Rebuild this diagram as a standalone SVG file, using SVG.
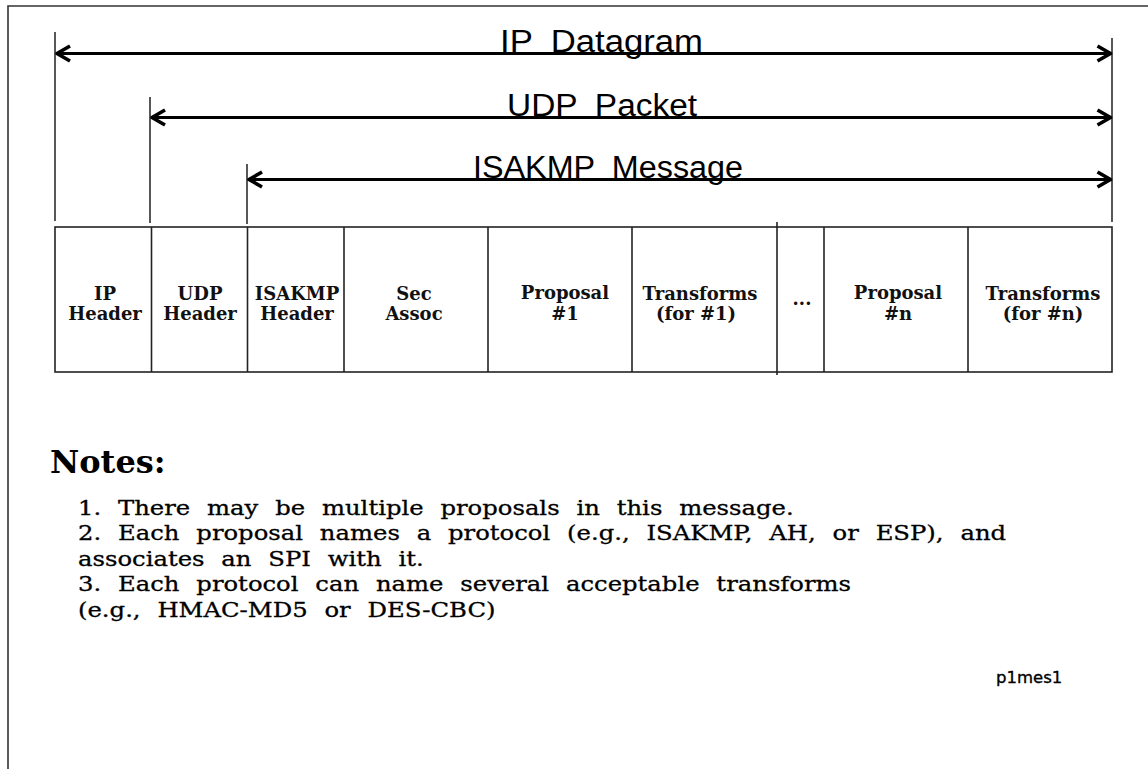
<svg xmlns="http://www.w3.org/2000/svg" width="1148" height="769" viewBox="0 0 1148 769">
  <style>
    .frame { fill: none; stroke: #333; stroke-width: 1.6; }
    .tick { stroke: #111; stroke-width: 1.4; }
    .span { stroke: #000; stroke-width: 3; fill: none; }
    .cell { fill: #fff; stroke: #222; stroke-width: 1.6; }
    .div { stroke: #222; stroke-width: 1.6; }
    .title { font-family: "Liberation Sans", Arial, sans-serif; font-size: 31px; fill: #000; word-spacing: 8px; }
    .lbl { font-family: "DejaVu Serif", "Liberation Serif", serif; font-weight: bold; font-size: 18px; fill: #111; text-anchor: middle; }
    .head { font-family: "DejaVu Serif", "Liberation Serif", serif; font-weight: bold; font-size: 32px; fill: #000; }
    .note { font-family: "DejaVu Serif", "Liberation Serif", serif; font-size: 20px; fill: #000; stroke: #000; stroke-width: 0.3; word-spacing: 7.5px; }
    .tag { font-family: "DejaVu Sans", "Liberation Sans", sans-serif; font-size: 16.5px; fill: #000; stroke: #000; stroke-width: 0.35; }
  </style>
  <defs>
    <marker id="chev" viewBox="-16 -10 20 20" refX="0" refY="0" markerWidth="20" markerHeight="20" markerUnits="userSpaceOnUse" orient="auto-start-reverse">
      <path d="M-13,-7.5 L0,0 L-13,7.5" fill="none" stroke="#000" stroke-width="3.6" stroke-linejoin="round" stroke-linecap="butt"/>
    </marker>
  </defs>

  <rect width="1148" height="769" fill="#fff"/>

  <!-- page frame (open to the right and bottom) -->
  <path class="frame" d="M8,769 L8,6 L1148,6"/>

  <!-- extent markers and spanning arrows -->
  <g id="connectors">
    <line class="tick" x1="55" y1="32" x2="55" y2="221"/>
    <line class="tick" x1="150" y1="97" x2="150" y2="223"/>
    <line class="tick" x1="247" y1="164" x2="247" y2="224"/>
    <line class="tick" x1="1112" y1="38" x2="1112" y2="222"/>

    <line class="span" x1="57" y1="53.5" x2="1110.5" y2="53.5" marker-start="url(#chev)" marker-end="url(#chev)"/>
    <line class="span" x1="152" y1="117.5" x2="1110.5" y2="117.5" marker-start="url(#chev)" marker-end="url(#chev)"/>
    <line class="span" x1="249" y1="179.5" x2="1110.5" y2="179.5" marker-start="url(#chev)" marker-end="url(#chev)"/>
  </g>

  <g id="span-labels">
    <text class="title" x="500" y="52" textLength="203" lengthAdjust="spacingAndGlyphs">IP Datagram</text>
    <text class="title" x="507" y="116" textLength="190" lengthAdjust="spacingAndGlyphs">UDP Packet</text>
    <text class="title" x="473" y="178" textLength="270" lengthAdjust="spacingAndGlyphs">ISAKMP Message</text>
  </g>

  <!-- packet layout -->
  <g id="packet">
    <rect class="cell" x="55" y="227" width="1057" height="145"/>
    <line class="div" x1="151.5" y1="227" x2="151.5" y2="372"/>
    <line class="div" x1="247.5" y1="227" x2="247.5" y2="372"/>
    <line class="div" x1="344" y1="227" x2="344" y2="372"/>
    <line class="div" x1="488" y1="227" x2="488" y2="372"/>
    <line class="div" x1="632" y1="227" x2="632" y2="372"/>
    <line class="div" x1="777" y1="222" x2="777" y2="375"/>
    <line class="div" x1="824" y1="227" x2="824" y2="372"/>
    <line class="div" x1="968" y1="227" x2="968" y2="372"/>
  </g>

  <g id="ip-header">
    <text class="lbl" x="105" y="300">IP</text>
    <text class="lbl" x="105" y="320">Header</text>
  </g>
  <g id="udp-header">
    <text class="lbl" x="200" y="300">UDP</text>
    <text class="lbl" x="200" y="320">Header</text>
  </g>
  <g id="isakmp-header">
    <text class="lbl" x="297" y="300">ISAKMP</text>
    <text class="lbl" x="297" y="320">Header</text>
  </g>
  <g id="sec-assoc">
    <text class="lbl" x="414" y="300">Sec</text>
    <text class="lbl" x="414" y="320">Assoc</text>
  </g>
  <g id="proposal-1">
    <text class="lbl" x="565" y="299">Proposal</text>
    <text class="lbl" x="565" y="320">#1</text>
  </g>
  <g id="transforms-1">
    <text class="lbl" x="700" y="300">Transforms</text>
    <text class="lbl" x="696" y="320">(for  #1)</text>
  </g>
  <g id="ellipsis">
    <text class="lbl" x="802" y="305">...</text>
  </g>
  <g id="proposal-n">
    <text class="lbl" x="898" y="299">Proposal</text>
    <text class="lbl" x="898" y="320">#n</text>
  </g>
  <g id="transforms-n">
    <text class="lbl" x="1043" y="300">Transforms</text>
    <text class="lbl" x="1043" y="320">(for  #n)</text>
  </g>

  <!-- notes -->
  <g id="notes">
    <text class="head" x="50" y="473">Notes:</text>
    <g transform="translate(78 0) scale(1.215 1)">
      <text class="note" x="0" y="515">1. There may be multiple proposals in this message.</text>
      <text class="note" x="0" y="540.5">2. Each proposal names a protocol (e.g., ISAKMP, AH, or ESP), and</text>
      <text class="note" x="0" y="566">associates an SPI with it.</text>
      <text class="note" x="0" y="591.5">3. Each protocol can name several acceptable transforms</text>
      <text class="note" x="0" y="617">(e.g., HMAC-MD5 or DES-CBC)</text>
    </g>
  </g>

  <text id="fig-id" class="tag" x="996" y="683">p1mes1</text>
</svg>
